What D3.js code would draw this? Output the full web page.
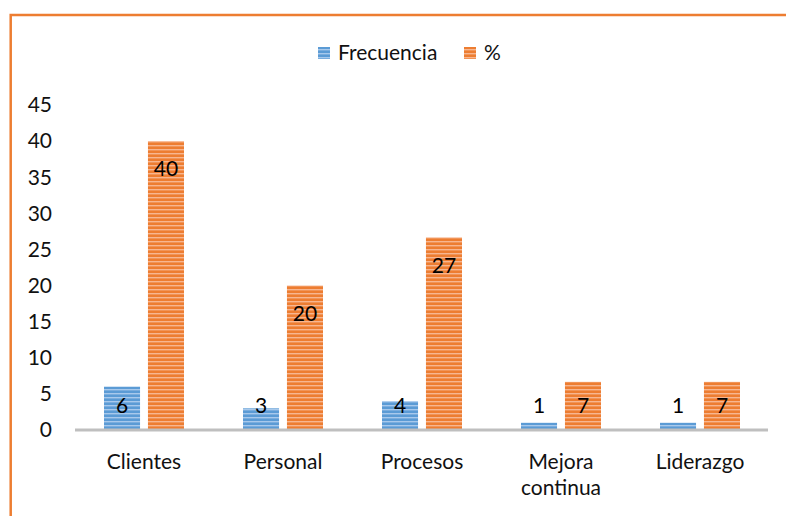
<!DOCTYPE html>
<html>
<head>
<meta charset="utf-8">
<script src="https://cdn.jsdelivr.net/npm/d3@7"></script>
<style>
  body { margin: 0; background: #fff; }
  svg { display: block; font-family: Lato, "Open Sans", sans-serif; }
</style>
</head>
<body>
<div id="chart"></div>
<script>
// datos del gráfico
const categories = ["Clientes", "Personal", "Procesos", "Mejora continua", "Liderazgo"];
const series = ["Frecuencia", "%"];
const frecuencia = [6, 3, 4, 1, 1];
const porcentaje = [40, 20, 26.67, 6.67, 6.67];
const yTicks = [0, 5, 10, 15, 20, 25, 30, 35, 40, 45];

const width = 786, height = 516;
const fs = 21;
const colors = { "Frecuencia": ["#5b9bd5", "#a8c9ec"], "%": ["#ed7d31", "#f7b690"] };

const svg = d3.select("#chart").append("svg")
  .attr("width", width)
  .attr("height", height);

// patrones de rayas horizontales
const defs = svg.append("defs");
series.forEach((s, i) => {
  const p = defs.append("pattern")
    .attr("id", "pat" + i)
    .attr("patternUnits", "userSpaceOnUse")
    .attr("width", 8).attr("height", 4);
  p.append("rect").attr("width", 8).attr("height", 4).attr("fill", colors[s][0]);
  p.append("rect").attr("y", 1).attr("width", 8).attr("height", 1.4).attr("fill", colors[s][1]);
});

// marco naranja (solo arriba e izquierda visibles)
svg.append("path")
  .attr("d", "M10.7," + height + " V15 H" + width)
  .attr("fill", "none")
  .attr("stroke", "#ed7d31")
  .attr("stroke-width", 2.5);

const y = d3.scaleLinear().domain([0, 45]).range([430, 105]);
const x = d3.scaleBand().domain(categories).range([74.5, 769.5]).padding(0);
const x1 = d3.scaleBand().domain(series).range([29.5, 109.5]).paddingInner(0.18);

// etiquetas eje y
svg.append("g").selectAll("text")
  .data(yTicks)
  .enter().append("text")
    .attr("x", 52)
    .attr("y", d => y(d))
    .attr("dy", "0.35em")
    .attr("text-anchor", "end")
    .attr("font-size", fs)
    .attr("fill", "#111")
    .text(d => d);

const rows = categories.map((c, i) => ({ cat: c, values: [frecuencia[i], porcentaje[i]] }));

const group = svg.append("g").selectAll("g")
  .data(rows)
  .enter().append("g")
    .attr("transform", d => `translate(${x(d.cat)},0)`);

group.selectAll("rect")
  .data(d => d.values.map((v, i) => ({ s: series[i], i: i, v: v })))
  .enter().append("rect")
    .attr("x", d => x1(d.s))
    .attr("y", d => y(d.v))
    .attr("width", x1.bandwidth())
    .attr("height", d => y(0) - y(d.v))
    .attr("fill", d => "url(#pat" + d.i + ")");

// etiquetas de datos (extremo interior, sin bajar del eje)
group.selectAll("text.lbl")
  .data(d => d.values.map((v, i) => ({ s: series[i], v: v })))
  .enter().append("text")
    .attr("class", "lbl")
    .attr("x", d => x1(d.s) + x1.bandwidth() / 2)
    .attr("y", d => Math.min(y(d.v) + 28, 406))
    .attr("dy", "0.35em")
    .attr("text-anchor", "middle")
    .attr("font-size", fs)
    .attr("fill", "#000")
    .text(d => Math.round(d.v));

// línea del eje x
svg.append("line")
  .attr("x1", x.range()[0] + 0.5).attr("x2", x.range()[1] - 1.5)
  .attr("y1", y(0)).attr("y2", y(0))
  .attr("stroke", "#bfbfbf")
  .attr("stroke-width", 3);

// etiquetas de categorías
const catLabels = svg.append("g").selectAll("text")
  .data(categories)
  .enter().append("text")
    .attr("x", d => x(d) + x.bandwidth() / 2)
    .attr("y", 462)
    .attr("text-anchor", "middle")
    .attr("font-size", fs)
    .attr("fill", "#111");

catLabels.each(function(d) {
  const words = d === "Mejora continua" ? ["Mejora", "continua"] : [d];
  const t = d3.select(this);
  words.forEach((w, k) => {
    t.append("tspan")
      .attr("x", x(d) + x.bandwidth() / 2)
      .attr("dy", k === 0 ? "0.35em" : "1.2em")
      .text(w);
  });
});

// leyenda
const legend = svg.append("g");
const legendPos = [318, 464];
series.forEach((s, i) => {
  legend.append("rect")
    .attr("x", legendPos[i]).attr("y", 47)
    .attr("width", 12).attr("height", 12)
    .attr("fill", "url(#pat" + i + ")");
  legend.append("text")
    .attr("x", legendPos[i] + 20)
    .attr("y", 53)
    .attr("dy", "0.35em")
    .attr("font-size", fs)
    .attr("fill", "#111")
    .text(s);
});
</script>
</body>
</html>
